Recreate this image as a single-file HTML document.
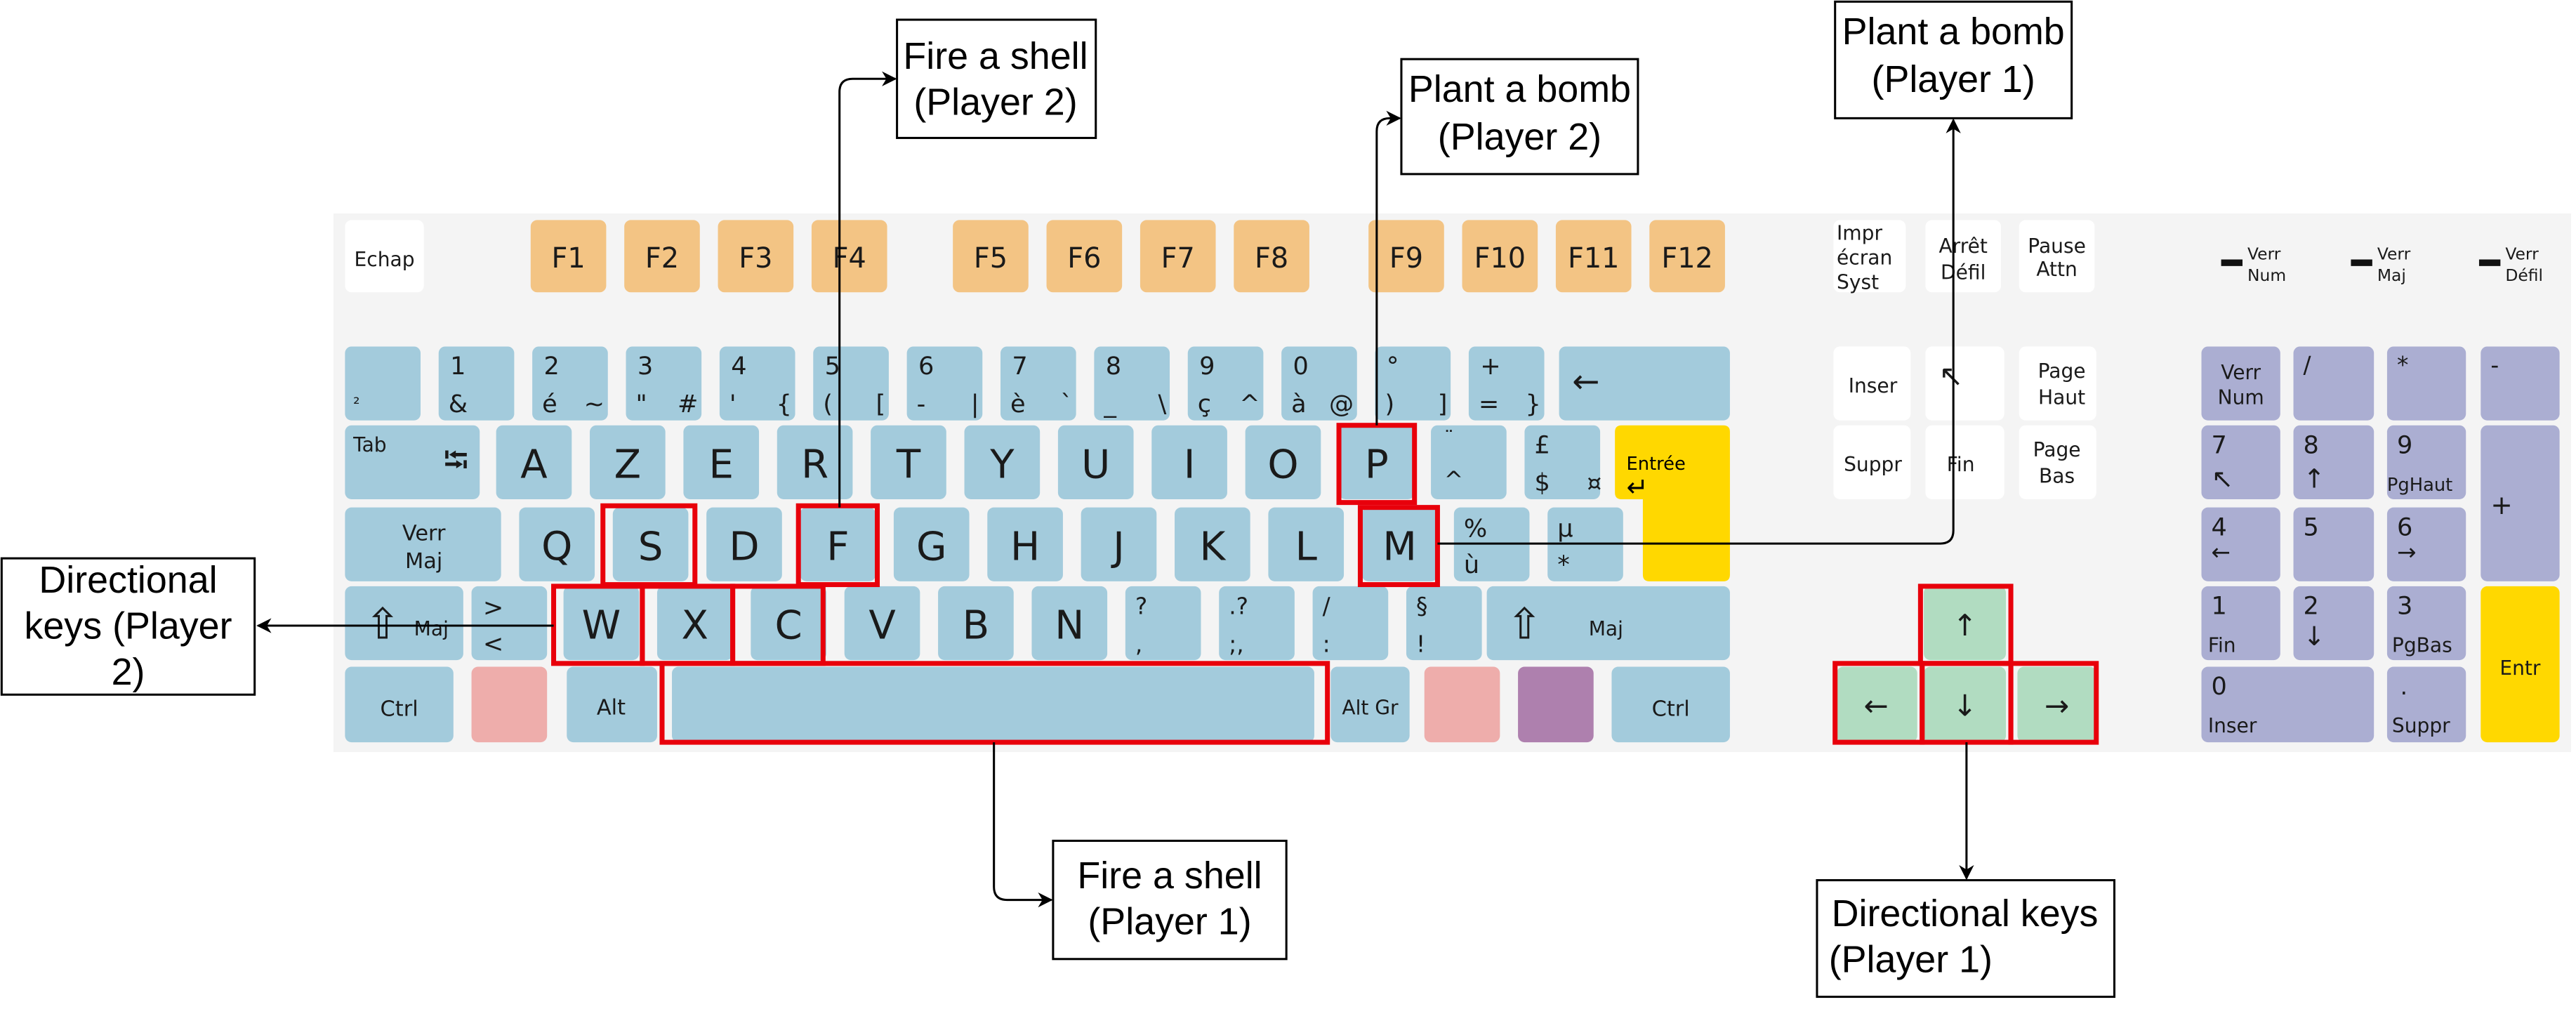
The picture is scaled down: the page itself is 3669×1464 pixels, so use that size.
<!DOCTYPE html>
<html><head><meta charset="utf-8"><style>
html,body{margin:0;padding:0;background:#fff;}
svg{display:block;}
text{font-family:"DejaVu Sans","Liberation Sans",sans-serif;}
.ann text{font-family:"Liberation Sans Narrow","Liberation Sans",sans-serif;font-size:23px;fill:#000;}
</style></head><body>
<svg id="kb" width="3669" height="1464" viewBox="0 0 1568 626" preserveAspectRatio="none" xmlns="http://www.w3.org/2000/svg">
<defs><marker id="ah" viewBox="0 0 10 10" refX="9" refY="5" markerWidth="7" markerHeight="7" orient="auto"><path d="M0,0 L10,5 L0,10 L3,5 z" fill="#000"/></marker></defs>
<rect x="203" y="130" width="1362" height="328" fill="#f4f4f4"/>
<g id="keys"></g>
<g id="hl" fill="none" stroke="#e8000b" stroke-width="3"></g>
<g fill="none" stroke="#000" stroke-width="1.3">
<path d="M511,309 L511,56 Q511,48 519,48 L545,48" marker-end="url(#ah)"/>
<path d="M838,259 L838,80 Q838,72 846,72 L852,72" marker-end="url(#ah)"/>
<path d="M875,331 L1181,331 Q1189,331 1189,323 L1189,73" marker-end="url(#ah)"/>
<path d="M337,381 L157,381" marker-end="url(#ah)"/>
<path d="M605,452 L605,540 Q605,548 613,548 L640,548" marker-end="url(#ah)"/>
<path d="M1197,452 L1197,535" marker-end="url(#ah)"/>
</g>
<g fill="#fff" stroke="#000" stroke-width="1.3">
<rect x="546" y="12" width="121" height="72"/>
<rect x="853" y="36" width="144" height="70"/>
<rect x="1117" y="1" width="144" height="71"/>
<rect x="1" y="340" width="154" height="83"/>
<rect x="641" y="512" width="142" height="72"/>
<rect x="1106" y="536" width="181" height="71"/>
</g>
<g class="ann" text-anchor="middle">
<text x="606" y="42">Fire a shell</text>
<text x="606" y="70">(Player 2)</text>
<text x="925" y="62">Plant a bomb</text>
<text x="925" y="91">(Player 2)</text>
<text x="1189" y="27">Plant a bomb</text>
<text x="1189" y="56">(Player 1)</text>
<text x="78" y="361">Directional</text>
<text x="78" y="389">keys (Player</text>
<text x="78" y="417">2)</text>
<text x="712" y="541">Fire a shell</text>
<text x="712" y="569">(Player 1)</text>
<text x="1196" y="564">Directional keys</text>
<text x="1163" y="592">(Player 1)</text>
</g>
</svg>
<script>
const NS="http://www.w3.org/2000/svg";
const B="#a3cbdc",O="#f3c484",W="#ffffff",G="#b1dcc1",Y="#ffd800",P="#abaed2",PK="#eeadab",PU="#ae80ae";
const g=document.getElementById('keys');
function key(name,x,y,w,h,fill,texts,rx){
  const r=document.createElementNS(NS,'rect');
  r.setAttribute('x',x);r.setAttribute('y',y);r.setAttribute('width',w);r.setAttribute('height',h);
  r.setAttribute('rx',rx===undefined?4:rx);r.setAttribute('fill',fill);
  
  
  g.appendChild(r);
  (texts||[]).forEach(t=>{
    const e=document.createElementNS(NS,'text');
    e.setAttribute('x',x+t[1]);e.setAttribute('y',y+t[2]);
    e.setAttribute('font-size',t[3]);e.setAttribute('fill',t[5]||'#1a1a1a');
    e.setAttribute('text-anchor',t[4]||'start');
    e.textContent=t[0];
    
    
    g.appendChild(e);
  });
}
function big(l){return [[l,23,32,24,'middle']];}
key('echap-key',210,134,48,44,W,[['Echap',24,28,12,'middle']]);
const fx=[323,380,437,494,580,637,694,751,833,890,947,1004];
fx.forEach((x,i)=>key('f'+(i+1)+'-key',x,134,46,44,O,[['F'+(i+1),23,29,17,'middle']]));
key('superscript-two-key',210,211,46,45,B,[['²',5,38,10]]);
const num=[['1','&',''],['2','é','~'],['3','"','#'],['4',"'",'{'],['5','(','['],['6','-','|'],['7','è','`'],['8','_','\\'],['9','ç','^'],['0','à','@'],['°',')',']'],['+','=','}']];
num.forEach((n,i)=>key('key-'+(i+1),267+57*i,211,46,45,B,[[n[0],7,17,15],[n[1],6,40,15],[n[2],44,40,15,'end']]));
key('backspace-key',949,211,104,45,B,[['←',8,28,20]]);
key('tab-key',210,259,82,45,B,[['Tab',5,16,12],['⭾',60,28,20]]);
'AZERTYUIOP'.split('').forEach((l,i)=>key('key-'+l.toLowerCase(),302+57*i,259,46,45,B,big(l)));
key('circumflex-key',871,259,46,45,B,[['¨',8,12,12],['^',8,38,14]]);
key('pound-key',928,259,46,45,B,[['£',6,17,15],['$',6,40,15],['¤',38,40,14]]);
(function(){const p=document.createElementNS(NS,'path');p.setAttribute('d','M987,259 H1049 Q1053,259 1053,263 V350 Q1053,354 1049,354 H1004 Q1000,354 1000,350 V304 H987 Q983,304 983,300 V263 Q983,259 987,259 Z');p.setAttribute('fill',Y);


g.appendChild(p);
const t=document.createElementNS(NS,'text');t.setAttribute('x',990);t.setAttribute('y',286);t.setAttribute('font-size',11);t.textContent='Entrée';


g.appendChild(t);
const a=document.createElementNS(NS,'text');a.setAttribute('x',990);a.setAttribute('y',302);a.setAttribute('font-size',16);a.textContent='↵';


g.appendChild(a);})();
key('caps-lock-key',210,309,95,45,B,[['Verr',48,20,13,'middle'],['Maj',48,37,13,'middle']]);
'QSDFGHJKLM'.split('').forEach((l,i)=>key('key-'+l.toLowerCase(),316+57*i,309,46,45,B,big(l)));
key('percent-key',885,309,46,45,B,[['%',6,18,15],['ù',6,40,15]]);
key('mu-key',942,309,46,45,B,[['µ',6,18,15],['*',6,40,15]]);
key('left-shift-key',210,357,72,45,B,[['⇧',12,32,26],['Maj',42,30,12]]);
key('less-than-key',287,357,46,45,B,[['>',7,18,15],['<',7,40,15]]);
'WXCVBN'.split('').forEach((l,i)=>key('key-'+l.toLowerCase(),343+57*i,357,46,45,B,big(l)));
const r4=[['?',','],['.?',';,'],['/',':'],['§','!']];
r4.forEach((n,i)=>key('punct-key-'+(i+1),685+57*i,357,46,45,B,[[n[0],6,17,14],[n[1],6,40,14]]));
key('right-shift-key',905,357,148,45,B,[['⇧',12,32,26],['Maj',62,30,12]]);
key('left-ctrl-key',210,406,66,46,B,[['Ctrl',33,30,13,'middle']]);
key('windows-key',287,406,46,46,PK);
key('alt-key',345,406,55,46,B,[['Alt',27,29,13,'middle']]);
key('space-key',409,406,391,46,B);
key('alt-gr-key',810,406,48,46,B,[['Alt Gr',24,29,12,'middle']]);
key('right-windows-key',867,406,46,46,PK);
key('menu-key',924,406,46,46,PU);
key('right-ctrl-key',981,406,72,46,B,[['Ctrl',36,30,13,'middle']]);
key('print-screen-key',1116,134,44,44,W,[['Impr',2,12,12],['écran',2,27,12],['Syst',2,42,12]]);
key('scroll-lock-key',1172,134,46,44,W,[['Arrêt',23,20,12,'middle'],['Défil',23,36,12,'middle']]);
key('pause-key',1229,134,46,44,W,[['Pause',23,20,12,'middle'],['Attn',23,34,12,'middle']]);
key('insert-key',1116,211,47,45,W,[['Inser',24,28,12,'middle']]);
key('home-key',1172,211,48,45,W,[['↖',8,24,18]]);
key('page-up-key',1229,211,47,45,W,[['Page',26,19,12,'middle'],['Haut',26,35,12,'middle']]);
key('delete-key',1116,259,47,45,W,[['Suppr',24,28,12,'middle']]);
key('end-key',1172,259,48,45,W,[['Fin',13,28,12]]);
key('page-down-key',1229,259,47,45,W,[['Page',23,19,12,'middle'],['Bas',23,35,12,'middle']]);
key('up-arrow-key',1171,357,50,45,G,[['↑',25,30,18,'middle']]);
key('left-arrow-key',1118,406,49,46,G,[['←',24,30,18,'middle']]);
key('down-arrow-key',1171,406,50,46,G,[['↓',25,30,18,'middle']]);
key('right-arrow-key',1228,406,48,46,G,[['→',24,30,18,'middle']]);
[[1352,'Num'],[1431,'Maj'],[1509,'Défil']].forEach((l,i)=>{
  key('led-'+l[1].toLowerCase(),l[0],158,13,4,'#111',[['Verr',16,0,10],[l[1],16,13,10]],0);
});
const nc=[1340,1396,1453,1510];
key('num-lock-key',nc[0],211,48,45,P,[['Verr',24,20,12,'middle'],['Num',24,35,12,'middle']]);
key('numpad-divide',nc[1],211,49,45,P,[['/',6,16,14]]);
key('numpad-multiply',nc[2],211,48,45,P,[['*',6,16,14]]);
key('numpad-minus',nc[3],211,48,45,P,[['-',6,16,14]]);
key('numpad-7',nc[0],259,48,45,P,[['7',6,17,15],['↖',6,38,16]]);
key('numpad-8',nc[1],259,49,45,P,[['8',6,17,15],['↑',6,38,16]]);
key('numpad-9',nc[2],259,48,45,P,[['9',6,17,15],['PgHaut',0,40,11]]);
key('numpad-plus',nc[3],259,48,95,P,[['+',6,54,16]]);
key('numpad-4',nc[0],309,48,45,P,[['4',6,17,15],['←',6,32,14]]);
key('numpad-5',nc[1],309,49,45,P,[['5',6,17,15]]);
key('numpad-6',nc[2],309,48,45,P,[['6',6,17,15],['→',6,32,14]]);
key('numpad-1',nc[0],357,48,45,P,[['1',6,17,15],['Fin',4,40,12]]);
key('numpad-2',nc[1],357,49,45,P,[['2',6,17,15],['↓',6,36,16]]);
key('numpad-3',nc[2],357,48,45,P,[['3',6,17,15],['PgBas',3,40,12]]);
key('numpad-enter',nc[3],357,48,95,Y,[['Entr',24,54,12,'middle']]);
key('numpad-0',nc[0],406,105,46,P,[['0',6,17,15],['Inser',4,40,12]]);
key('numpad-decimal',nc[2],406,48,46,P,[['.',8,17,14],['Suppr',3,40,12]]);
const hl=document.getElementById('hl');
const boxes=[['s',367,308,56,48],['f',486,308,48,48],['p',815,259,46,47],['m',828,309,47,47],['w',337,357,54,47],['x',391,357,55,47],['c',446,357,55,47],['space',403,404,405,48],['up',1169,357,55,47],['left',1117,404,53,48],['down',1170,404,54,48],['right',1224,404,52,48]];
boxes.forEach(b=>{const r=document.createElementNS(NS,'rect');r.setAttribute('x',b[1]);r.setAttribute('y',b[2]);r.setAttribute('width',b[3]);r.setAttribute('height',b[4]);


hl.appendChild(r);});
</script>
</body></html>
